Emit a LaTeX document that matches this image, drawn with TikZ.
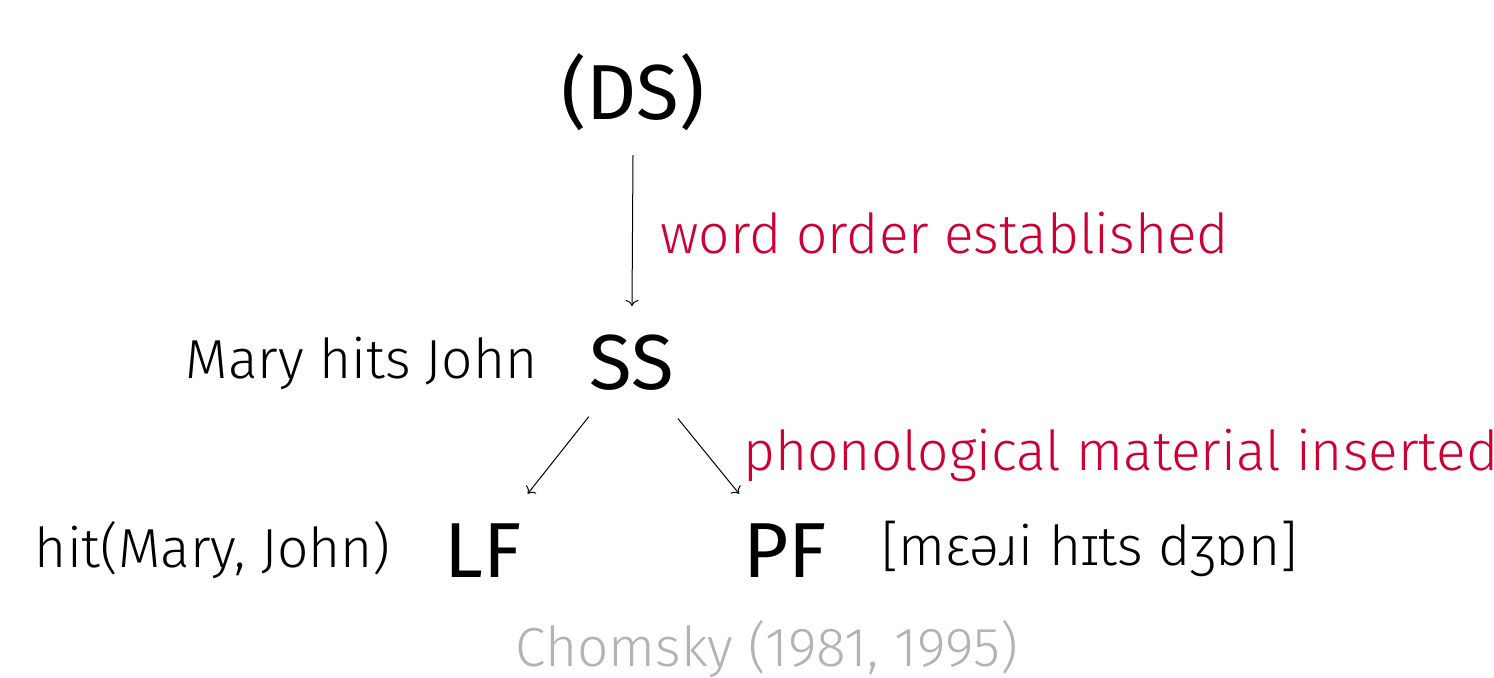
\documentclass[tikz,border=0pt]{standalone}
\usepackage{fontspec}
\setmainfont{Fira Sans}[UprightFont={* Light}]
\newfontfamily\bigfont{Fira Sans}
\usetikzlibrary{calc,arrows.meta}
\definecolor{accent}{HTML}{CC0033}
\definecolor{cite}{HTML}{B3B3B3}
\tikzset{
  big/.style={font=\bigfont\fontsize{39}{44}\selectfont, inner sep=0pt},
  small/.style={font=\fontsize{27.5}{32}\selectfont, inner sep=0pt},
  note/.style={small, text=accent},
  arr/.style={-{To[length=3pt,width=6.5pt]}, line width=0.5pt},
}
\begin{document}
\begin{tikzpicture}[x=0.5pt,y=-0.5pt]
\useasboundingbox (0,0) rectangle (1494,677);
\node[big, anchor=base] (DS) at (633,119) {(DS)};
\node[big, anchor=base] (SS) at (632,389) {SS};
\node[big, anchor=base] (LF) at (483,577) {LF};
\node[big, anchor=base] (PF) at (785,577) {PF};
\node[note, anchor=base west] (wo) at (660,253) {word order established};
\node[note, anchor=base west] (pm) at (743,470) {phonological material inserted};
\node[small, anchor=base east] (mhj) at (538,378) {Mary hits John};
\node[small, anchor=base east] (lfx) at (391,567) {hit(Mary, John)};
\node[small, anchor=base west] (ipa) at (881,565) {[mɛəɹi hɪts dʒɒn]};
\node[small, anchor=base, text=cite] (cit) at (767,666) {Chomsky (1981, 1995)};
\draw[arr] ([yshift=-18pt]DS.base) -- ([yshift=41.5pt]SS.base);
\draw[arr] ($(SS)!0.29!(LF)$) -- ($(LF)!0.30!(SS)$);
\draw[arr] ($(SS)!0.30!(PF)$) -- ($(PF)!0.30!(SS)$);
\end{tikzpicture}
\end{document}
